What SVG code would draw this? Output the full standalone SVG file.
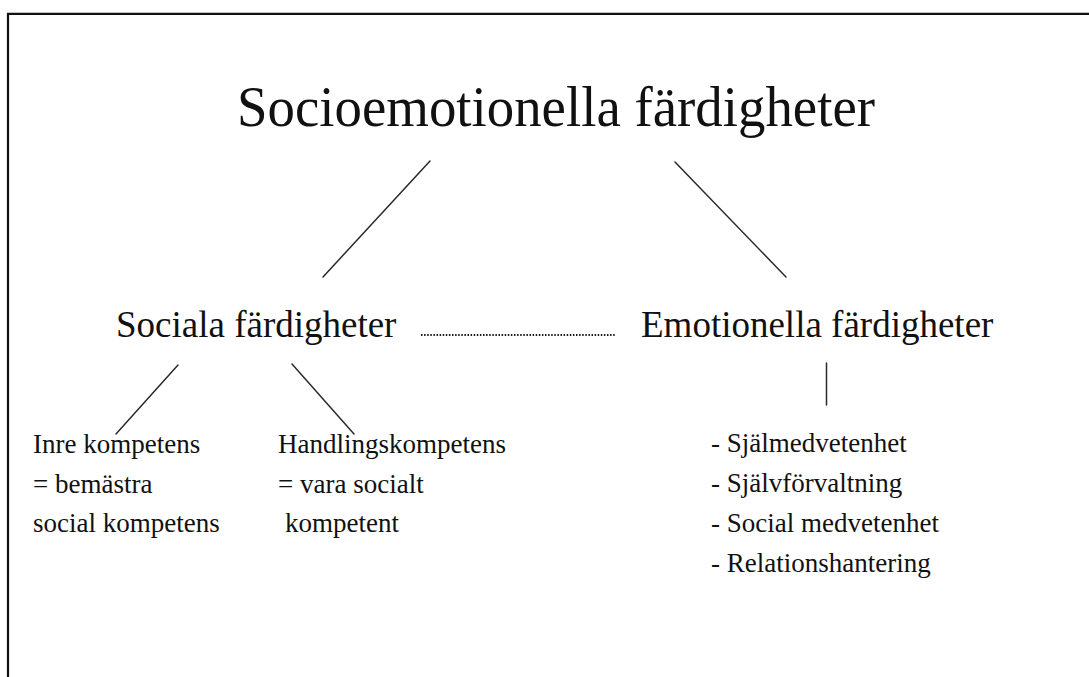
<svg xmlns="http://www.w3.org/2000/svg" width="1089" height="677" viewBox="0 0 1089 677">
<style>
text { font-family: "Liberation Serif", "Times New Roman", serif; fill: #111; }
.t1 { font-size: 58px; }
.t2 { font-size: 37px; }
.t3 { font-size: 27px; }
.c { stroke: #2a2a2a; stroke-width: 1.5; fill: none; stroke-linecap: round; }
.dot { stroke: #1a1a1a; stroke-width: 2; stroke-dasharray: 1.5 1.6; fill: none; }
</style>
<rect width="1089" height="677" fill="#fff"/>
<path d="M8 677 V13.8 H1089" fill="none" stroke="#111" stroke-width="2.2"/>
<g id="connectors">
  <line class="c" x1="430" y1="161" x2="323" y2="277"/>
  <line class="c" x1="675" y1="162" x2="786" y2="277"/>
  <line class="dot" x1="421" y1="335" x2="616" y2="335"/>
  <line class="c" x1="178" y1="365" x2="116" y2="434"/>
  <line class="c" x1="292" y1="364" x2="354" y2="434"/>
  <line class="c" x1="826.5" y1="363" x2="826.5" y2="405"/>
</g>
<g id="root"><text class="t1" x="237" y="126" textLength="638" lengthAdjust="spacingAndGlyphs">Socioemotionella färdigheter</text></g>
<g id="sociala"><text class="t2" x="116" y="337">Sociala färdigheter</text></g>
<g id="emotionella"><text class="t2" x="641" y="337">Emotionella färdigheter</text></g>
<g id="inre">
  <text class="t3" x="33" y="453">Inre kompetens</text>
  <text class="t3" x="33" y="493">= bemästra</text>
  <text class="t3" x="33" y="532">social kompetens</text>
</g>
<g id="handling">
  <text class="t3" x="278" y="453">Handlingskompetens</text>
  <text class="t3" x="278" y="493">= vara socialt</text>
  <text class="t3" x="285" y="532">kompetent</text>
</g>
<g id="emo-list">
  <text class="t3" x="711" y="452">- Själmedvetenhet</text>
  <text class="t3" x="711" y="492">- Självförvaltning</text>
  <text class="t3" x="711" y="532">- Social medvetenhet</text>
  <text class="t3" x="711" y="572">- Relationshantering</text>
</g>
</svg>
